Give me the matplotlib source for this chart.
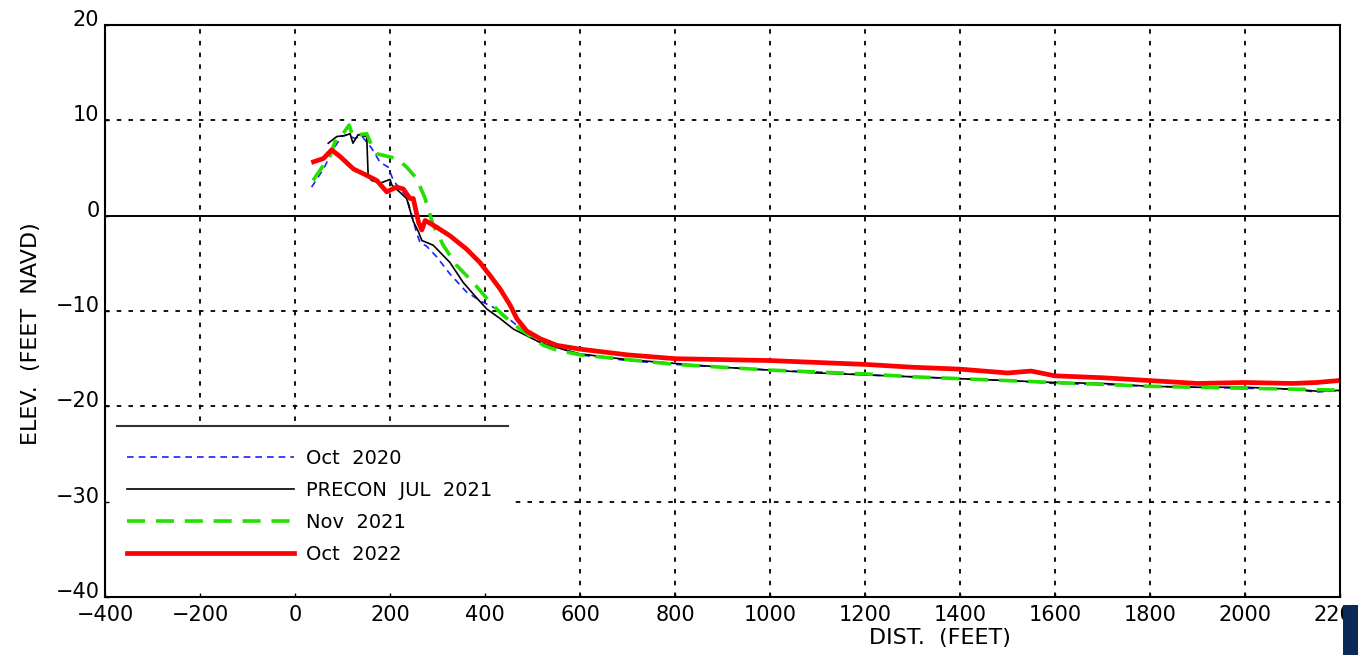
import matplotlib
matplotlib.use("Agg")
import matplotlib.pyplot as plt
import matplotlib.transforms as mtransforms
from matplotlib.patches import Rectangle

plt.rcParams['font.family'] = ['DejaVu Sans']

# ---- data ----
oct2020_x = [35, 60, 81, 98, 109, 126, 140, 161, 179, 196, 207, 221, 235, 246, 256, 263, 277, 298,
             326, 361, 389, 425, 467, 520, 600, 700, 800, 900, 1000, 1100, 1200, 1300, 1400,
             1500, 1600, 1700, 1800, 1900, 2000, 2100, 2150, 2220]
oct2020_y = [3.0, 4.9, 7.0, 8.3, 8.5, 8.1, 8.4, 7.1, 5.6, 5.1, 3.7, 2.8, 2.0, 0.0, -1.8, -2.8, -3.2, -4.3,
             -6.1, -8.0, -8.9, -9.8, -11.5, -13.3, -14.6, -15.2, -15.6, -15.9, -16.2, -16.4, -16.7, -16.9, -17.1,
             -17.3, -17.6, -17.7, -17.9, -18.0, -18.1, -18.2, -18.5, -18.3]

precon_x = [70, 88, 105, 116, 122, 133, 151, 154, 161, 179, 200, 204, 220, 235, 249, 260, 267, 291,
            326, 354, 382, 404, 432, 460, 520, 600, 700, 800, 900, 1000, 1100, 1200, 1300, 1400,
            1500, 1600, 1700, 1800, 1900, 2000, 2100, 2150, 2220]
precon_y = [7.6, 8.3, 8.4, 8.6, 7.6, 8.5, 8.3, 4.2, 3.7, 3.4, 3.8, 3.2, 2.5, 1.8, -0.6, -1.7, -2.6, -3.1,
            -4.9, -7.0, -8.6, -9.8, -10.8, -11.9, -13.4, -14.5, -15.1, -15.5, -15.9, -16.2, -16.5, -16.7, -16.9, -17.1,
            -17.3, -17.5, -17.6, -17.9, -18.0, -18.0, -18.2, -18.4, -18.3]

nov2021_x = [38, 74, 88, 101, 114, 122, 137, 151, 161, 172, 196, 214, 235, 256, 274, 291, 312, 340,
             375, 411, 439, 474, 523, 551, 600, 700, 800, 900, 1000, 1100, 1200, 1300, 1400,
             1500, 1600, 1700, 1800, 1900, 2000, 2100, 2200, 2220]
nov2021_y = [3.7, 6.3, 8.3, 8.6, 9.5, 8.3, 8.5, 8.6, 7.4, 6.5, 6.2, 6.0, 5.1, 3.9, 1.8, -1.0, -3.1, -5.2,
             -7.0, -9.1, -10.5, -11.9, -13.6, -14.1, -14.6, -15.1, -15.6, -15.9, -16.2, -16.4, -16.6, -16.9, -17.1,
             -17.3, -17.5, -17.7, -17.9, -18.0, -18.1, -18.2, -18.3, -18.3]

oct2022_x = [39, 60, 77, 95, 123, 144, 172, 193, 214, 228, 242, 249, 260, 267, 274, 298, 326, 361,
             389, 411, 432, 453, 467, 488, 516, 551, 600, 700, 800, 900, 1000, 1100, 1200, 1300,
             1400, 1500, 1550, 1600, 1700, 1800, 1900, 2000, 2100, 2150, 2220]
oct2022_y = [5.65, 6.0, 6.9, 6.2, 4.9, 4.4, 3.7, 2.5, 3.0, 2.8, 1.8, 1.8, -0.7, -1.5, -0.5, -1.2, -2.1, -3.5,
             -4.9, -6.3, -7.7, -9.4, -10.8, -12.1, -12.9, -13.6, -14.0, -14.6, -15.0, -15.1, -15.2, -15.4, -15.6, -15.9,
             -16.1, -16.5, -16.3, -16.8, -17.0, -17.3, -17.6, -17.5, -17.6, -17.5, -17.2]

labels = ["Oct  2020", "PRECON  JUL  2021", "Nov  2021", "Oct  2022"]
x_ticks = [-400, -200, 0, 200, 400, 600, 800, 1000, 1200, 1400, 1600, 1800, 2000, 2200]
y_ticks = [-40, -30, -20, -10, 0, 10, 20]

FS_TICK = 15
FS_LEG = 14
FS_LAB = 16

# ---- figure ----
fig = plt.figure(figsize=(13.58, 6.55), dpi=100)
ax = fig.add_axes([105/1358, 1 - 597/655, 1235/1358, 572/655])

grid_style = dict(color='black', lw=1.3, ls=(0, (2.5, 4)), zorder=1)
for xv in x_ticks[1:-1]:
    ax.axvline(xv, **grid_style)
for yv in y_ticks[1:-1]:
    if yv != 0:
        ax.axhline(yv, **grid_style)
ax.axhline(0, color='black', lw=1.4, zorder=2)

l1, = ax.plot(oct2020_x, oct2020_y, color='#1f1fff', lw=1.2, ls=(0, (4, 3)), zorder=3, label=labels[0])
l2, = ax.plot(precon_x, precon_y, color='black', lw=1.2, zorder=4, label=labels[1])
l3, = ax.plot(nov2021_x, nov2021_y, color='#22e000', lw=2.6, ls=(0, (5, 3)), zorder=5, label=labels[2])
l4, = ax.plot(oct2022_x, oct2022_y, color='#ff0000', lw=3.4, zorder=6, label=labels[3])

ax.set_xlim(-400, 2200)
ax.set_ylim(-40, 20)
ax.set_xticks(x_ticks)
ax.set_yticks(y_ticks)
ax.set_xticklabels([("\u2212" + str(-v)) if v < 0 else str(v) for v in x_ticks])
ax.set_yticklabels([("\u2212" + str(-v)) if v < 0 else str(v) for v in y_ticks])
ax.tick_params(direction='in', length=3, width=1, labelsize=FS_TICK)
ax.tick_params(axis='x', pad=6)
ax.tick_params(axis='y', pad=4)
shift = mtransforms.ScaledTranslation(0, 7 / 100, fig.dpi_scale_trans)
for lab in ax.get_yticklabels():
    lab.set_transform(lab.get_transform() + shift)
for s in ax.spines.values():
    s.set_linewidth(1.5)
    s.set_zorder(10)
ax.xaxis.set_zorder(10)
ax.yaxis.set_zorder(10)

ax.set_xlabel("DIST.  (FEET)", fontsize=FS_LAB)
ax.xaxis.set_label_coords(0.676, -0.055)
ax.set_ylabel("ELEV.  (FEET  NAVD)", fontsize=FS_LAB)
ax.yaxis.set_label_coords(-0.052, 0.46)

# legend panel
ax.add_patch(Rectangle((0, 0), (510 - 105) / 1235, (597 - 427) / 572, transform=ax.transAxes,
                       facecolor='white', edgecolor='none', zorder=7))
ax.plot([(117 - 105) / 1235, (508 - 105) / 1235], [(597 - 426) / 572] * 2, transform=ax.transAxes,
        color='#333333', lw=1.5, zorder=8, clip_on=False)
leg = ax.legend(handles=[l1, l2, l3, l4], loc='upper left',
                bbox_to_anchor=((127 - 105) / 1235, (597 - 449) / 572),
                frameon=False, fontsize=FS_LEG, handlelength=8.6, handletextpad=0.6,
                labelspacing=0.66, borderaxespad=0, borderpad=0)
leg.set_zorder(9)

# dark corner block
fig.patches.append(Rectangle((1343 / 1358, 0), 15 / 1358, 50 / 655, transform=fig.transFigure,
                             facecolor='#0b2a55', edgecolor='none', zorder=20))

fig.savefig("out.png", dpi=100)
